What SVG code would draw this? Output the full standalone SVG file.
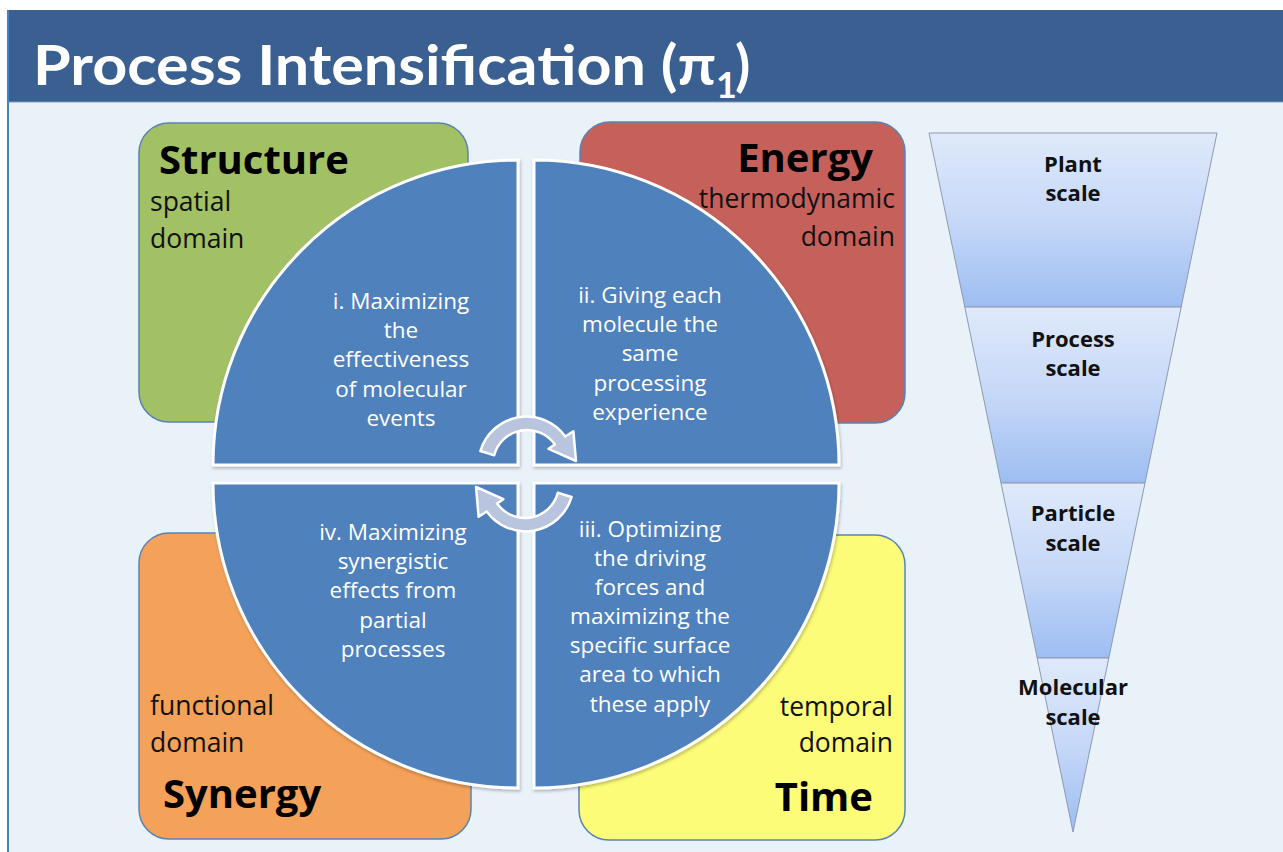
<svg xmlns="http://www.w3.org/2000/svg" width="1283" height="852" viewBox="0 0 1283 852">
<defs>
<style>
.title{font-family:Lato,"Noto Sans","Liberation Sans",sans-serif;font-weight:bold;fill:#ffffff}
.q{font-family:"Open Sans","Noto Sans","Liberation Sans",sans-serif;font-size:22.5px;fill:#ffffff;text-anchor:middle}
.h{font-family:"Open Sans","Noto Sans","Liberation Sans",sans-serif;font-size:40px;font-weight:bold;fill:#000000}
.d{font-family:"Open Sans","Noto Sans","Liberation Sans",sans-serif;font-size:26.5px;fill:#111111}
.r{text-anchor:end}
.s{font-family:"Open Sans","Noto Sans","Liberation Sans",sans-serif;font-size:22px;font-weight:bold;fill:#111111;text-anchor:middle}
.box{stroke:#5B82B5;stroke-width:1.5}
.quad{fill:#4F81BD;stroke:#ffffff;stroke-width:3;filter:url(#sh)}
.band{fill:url(#bg);stroke:#8C9BB0;stroke-width:1}
.arr{fill:#B9C4DF;stroke:#ffffff;stroke-width:2.5;stroke-linejoin:round}
</style>
<linearGradient id="bg" x1="0" y1="0" x2="0" y2="1">
<stop offset="0" stop-color="#DFE9FA"/>
<stop offset="0.5" stop-color="#C6D8F8"/>
<stop offset="1" stop-color="#9DBDF2"/>
</linearGradient>
<filter id="sh" x="-10%" y="-10%" width="120%" height="120%">
<feDropShadow dx="1" dy="2" stdDeviation="1.5" flood-color="#000000" flood-opacity="0.25"/>
</filter>
</defs>
<rect x="0" y="0" width="1283" height="852" fill="#ffffff"/>
<rect x="8" y="102" width="1275" height="750" fill="#E9F1F9"/>
<g id="title">
<rect x="8" y="10" width="1275" height="92" fill="#3A6091"/>
<line x1="8" y1="102" x2="1283" y2="102" stroke="#7E9CC0" stroke-width="1"/>
<text class="title" x="33" y="85" font-size="56" textLength="683" lengthAdjust="spacingAndGlyphs">Process Intensification (π</text>
<text class="title" x="716" y="98" font-size="36">1</text>
<text class="title" x="735" y="85" font-size="56">)</text>
</g>
<line x1="8" y1="10" x2="8" y2="852" stroke="#4A7EBB" stroke-width="2"/>
<g id="structure">
<rect class="box" x="139" y="123" width="329" height="299" rx="30" fill="#A2C064"/>
<text class="h" x="159" y="174">Structure</text>
<text class="d" x="150" y="211">spatial</text>
<text class="d" x="150" y="248">domain</text>
</g>
<g id="energy">
<rect class="box" x="580" y="122" width="325" height="301" rx="30" fill="#C6605B"/>
<text class="h r" x="873" y="172">Energy</text>
<text class="d r" x="895" y="208">thermodynamic</text>
<text class="d r" x="895" y="246">domain</text>
</g>
<g id="synergy">
<rect class="box" x="139" y="533" width="332" height="306" rx="30" fill="#F4A159"/>
<text class="d" x="150" y="715">functional</text>
<text class="d" x="150" y="752">domain</text>
<text class="h" x="163" y="808">Synergy</text>
</g>
<g id="time">
<rect class="box" x="579" y="535" width="326" height="305" rx="30" fill="#FCFC78"/>
<text class="d r" x="893" y="716">temporal</text>
<text class="d r" x="893" y="752">domain</text>
<text class="h r" x="873" y="811">Time</text>
</g>
<g id="quadrant-i">
<path class="quad" d="M518,465 L213,465 A305,305 0 0 1 518,160 Z"/>
<text class="q" x="401" y="309">i. Maximizing</text>
<text class="q" x="401" y="338">the</text>
<text class="q" x="401" y="367">effectiveness</text>
<text class="q" x="401" y="397">of molecular</text>
<text class="q" x="401" y="426">events</text>
</g>
<g id="quadrant-ii">
<path class="quad" d="M534,465 L534,160 A305,305 0 0 1 839,465 Z"/>
<text class="q" x="650" y="303">ii. Giving each</text>
<text class="q" x="650" y="332">molecule the</text>
<text class="q" x="650" y="361">same</text>
<text class="q" x="650" y="391">processing</text>
<text class="q" x="650" y="420">experience</text>
</g>
<g id="quadrant-iii">
<path class="quad" d="M534,483 L839,483 A305,305 0 0 1 534,788 Z"/>
<text class="q" x="650" y="537">iii. Optimizing</text>
<text class="q" x="650" y="566">the driving</text>
<text class="q" x="650" y="595">forces and</text>
<text class="q" x="650" y="624">maximizing the</text>
<text class="q" x="650" y="653">specific surface</text>
<text class="q" x="650" y="682">area to which</text>
<text class="q" x="650" y="712">these apply</text>
</g>
<g id="quadrant-iv">
<path class="quad" d="M518,483 L518,788 A305,305 0 0 1 213,483 Z"/>
<text class="q" x="393" y="540">iv. Maximizing</text>
<text class="q" x="393" y="569">synergistic</text>
<text class="q" x="393" y="598">effects from</text>
<text class="q" x="393" y="628">partial</text>
<text class="q" x="393" y="657">processes</text>
</g>
<g id="connectors">
<path id="arrow-top" class="arr" d="M480.4,451 A48,48 0 0 1 565.3,436.5 L573.4,431.3 L576,461 L548.6,448.8 L554.9,444.5 A34,34 0 0 0 494.2,455.2 Z"/>
<path id="arrow-bottom" class="arr" transform="rotate(180 526 474)" d="M480.4,451 A48,48 0 0 1 565.3,436.5 L573.4,431.3 L576,461 L548.6,448.8 L554.9,444.5 A34,34 0 0 0 494.2,455.2 Z"/>
</g>
<g id="scales">
<g id="plant-scale">
<polygon class="band" points="929,133 1217,133 1181.2,307 964.8,307"/>
<text class="s" x="1073" y="172">Plant</text>
<text class="s" x="1073" y="201">scale</text>
</g>
<g id="process-scale">
<polygon class="band" points="964.8,307 1181.2,307 1145,483 1001,483"/>
<text class="s" x="1073" y="347">Process</text>
<text class="s" x="1073" y="376">scale</text>
</g>
<g id="particle-scale">
<polygon class="band" points="1001,483 1145,483 1108.8,658 1037.2,658"/>
<text class="s" x="1073" y="521">Particle</text>
<text class="s" x="1073" y="551">scale</text>
</g>
<g id="molecular-scale">
<polygon class="band" points="1037.2,658 1108.8,658 1073,832"/>
<text class="s" x="1073" y="695">Molecular</text>
<text class="s" x="1073" y="725">scale</text>
</g>
</g>
</svg>
